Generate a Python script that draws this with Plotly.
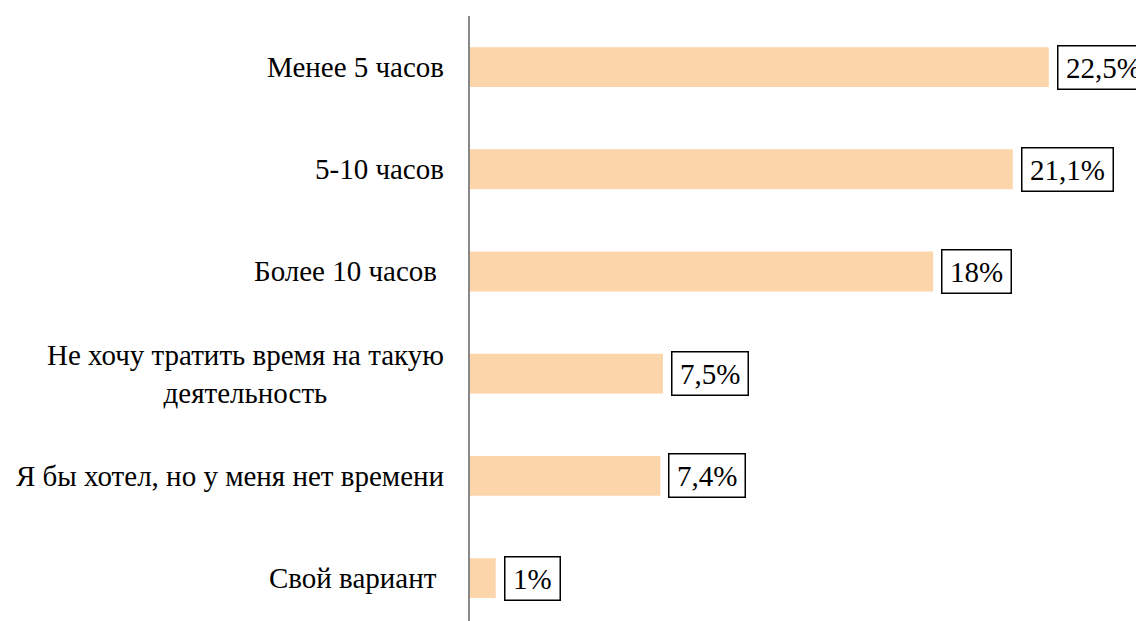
import plotly.graph_objects as go

categories = [
    "Менее 5 часов",
    "5-10 часов",
    "Более 10 часов ",
    "Не хочу тратить время на такую<br>деятельность",
    "Я бы хотел, но у меня нет времени",
    "Свой вариант ",
]
values = [22.5, 21.1, 18.0, 7.5, 7.4, 1.0]
value_labels = ["22,5%", "21,1%", "18%", "7,5%", "7,4%", "1%"]

FONT = "Liberation Serif, Times New Roman, serif"
NBSP = "\u00a0"
HAIR = "\u200a"

fig = go.Figure()
fig.add_trace(go.Bar(
    x=values,
    y=categories,
    orientation="h",
    width=0.39,
    marker=dict(color="#FDD5AA", line=dict(width=0)),
    hoverinfo="skip",
))

annotations = []
for cat, val, lab in zip(categories, values, value_labels):
    annotations.append(dict(
        x=val, y=cat, xref="x", yref="y",
        text=HAIR + lab + HAIR,
        showarrow=False, xanchor="left", yanchor="middle", xshift=8,
        font=dict(family=FONT, size=29, color="black"),
        bordercolor="black", borderwidth=1.5, borderpad=5,
        bgcolor="white",
    ))
    label = cat.rstrip(" ") + (NBSP if cat.endswith(" ") else "")
    annotations.append(dict(
        x=0, y=cat, xref="x", yref="y",
        text=label,
        showarrow=False, xanchor="right", yanchor="middle", xshift=-24,
        align="center",
        font=dict(family=FONT, size=29, color="black"),
    ))

fig.update_layout(
    width=1136, height=613,
    margin=dict(l=462, r=0, t=8, b=0),
    paper_bgcolor="white", plot_bgcolor="white",
    showlegend=False,
    font=dict(family=FONT, size=29, color="black"),
    xaxis=dict(range=[0, 26.2], visible=False, showgrid=False, zeroline=False),
    yaxis=dict(
        type="category", categoryorder="array", categoryarray=categories,
        range=[5.42, -0.5], showticklabels=False, ticks="",
        showline=True, linecolor="#888888", linewidth=2,
        showgrid=False, zeroline=False,
    ),
    annotations=annotations,
)

fig.write_html("out.html")
